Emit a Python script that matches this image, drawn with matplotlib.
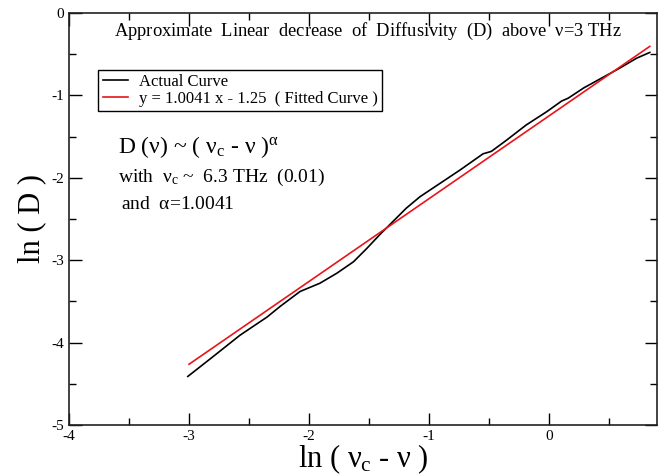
import matplotlib
matplotlib.use("Agg")
import matplotlib.pyplot as plt
import numpy as np
from matplotlib.ticker import MultipleLocator

plt.rcParams['font.family'] = ['Liberation Serif', 'DejaVu Serif']
plt.rcParams['mathtext.fontset'] = 'custom'
plt.rcParams['mathtext.rm'] = 'Liberation Serif'
plt.rcParams['mathtext.it'] = 'Liberation Serif'
plt.rcParams['mathtext.bf'] = 'Liberation Serif:bold'
plt.rcParams['axes.unicode_minus'] = False

# Actual curve
actual_x = [-3.01, -2.80, -2.575, -2.35, -2.24, -2.075, -1.91, -1.77, -1.63, -1.52,
            -1.41, -1.30, -1.19, -1.075, -0.91, -0.74, -0.55, -0.48, -0.35, -0.19,
            -0.02, 0.105, 0.16, 0.29, 0.44, 0.59, 0.73, 0.84]
actual_y = [-4.41, -4.17, -3.91, -3.69, -3.56, -3.38, -3.28, -3.16, -3.02, -2.86,
            -2.69, -2.53, -2.37, -2.23, -2.07, -1.905, -1.71, -1.68, -1.54, -1.36,
            -1.20, -1.07, -1.035, -0.91, -0.79, -0.67, -0.55, -0.48]

# Fitted line y = slope * x + intercept
slope = 1.0041
intercept = -1.25
fit_x = [-3.0, 0.84]
fit_y = [slope * v + intercept for v in fit_x]

fig = plt.figure(figsize=(6.67, 4.76), dpi=100)
ax = fig.add_axes([0.1035, 0.107, 0.8815, 0.866])

ax.plot(actual_x, actual_y, color='black', lw=1.2, label='Actual Curve')
ax.plot(fit_x, fit_y, color='#e8141a', lw=1.2, label='y = 1.0041 x - 1.25  ( Fitted Curve )')

ax.set_xlim(-4, 0.9)
ax.set_ylim(-5, 0)
ax.xaxis.set_major_locator(MultipleLocator(1))
ax.xaxis.set_minor_locator(MultipleLocator(0.5))
ax.yaxis.set_major_locator(MultipleLocator(1))
ax.yaxis.set_minor_locator(MultipleLocator(0.5))
ax.tick_params(which='both', direction='in', top=True, right=True, labelsize=11, width=1.0)
ax.tick_params(which='major', length=9)
ax.tick_params(which='minor', length=5)
for s in ax.spines.values():
    s.set_linewidth(1.2)
    s.set_color('#222222')

ax.set_xlabel(r'ln ( $\nu_{\rm c}$ - $\nu$ )', fontsize=22, labelpad=0)
ax.set_ylabel('ln ( D )', fontsize=22, labelpad=4)

ax.text(0.508, 0.955, r'Approximate  Linear  decrease  of  Diffusivity  (D)  above  $\nu$=3 THz',
        transform=ax.transAxes, ha='center', va='center', fontsize=13.3)

leg = ax.legend(loc='upper left', bbox_to_anchor=(0.05, 0.862), fontsize=12,
                frameon=True, fancybox=False, edgecolor='black', framealpha=1,
                handlelength=1.5, handletextpad=0.7, borderpad=0.25, labelspacing=0.05,
                borderaxespad=0)
leg.get_frame().set_linewidth(1.0)

ax.text(0.083, 0.675, r'D ($\nu$) ~ ( $\nu_{\rm c}$ - $\nu$ )$^{\alpha}$',
        transform=ax.transAxes, ha='left', va='center', fontsize=17)
ax.text(0.083, 0.6, r'with  $\nu_{\rm c}$ ~  6.3 THz  (0.01)',
        transform=ax.transAxes, ha='left', va='center', fontsize=14)
ax.text(0.088, 0.535, r'and  $\alpha$=1.0041',
        transform=ax.transAxes, ha='left', va='center', fontsize=14)

fig.savefig('out.png', dpi=100)
